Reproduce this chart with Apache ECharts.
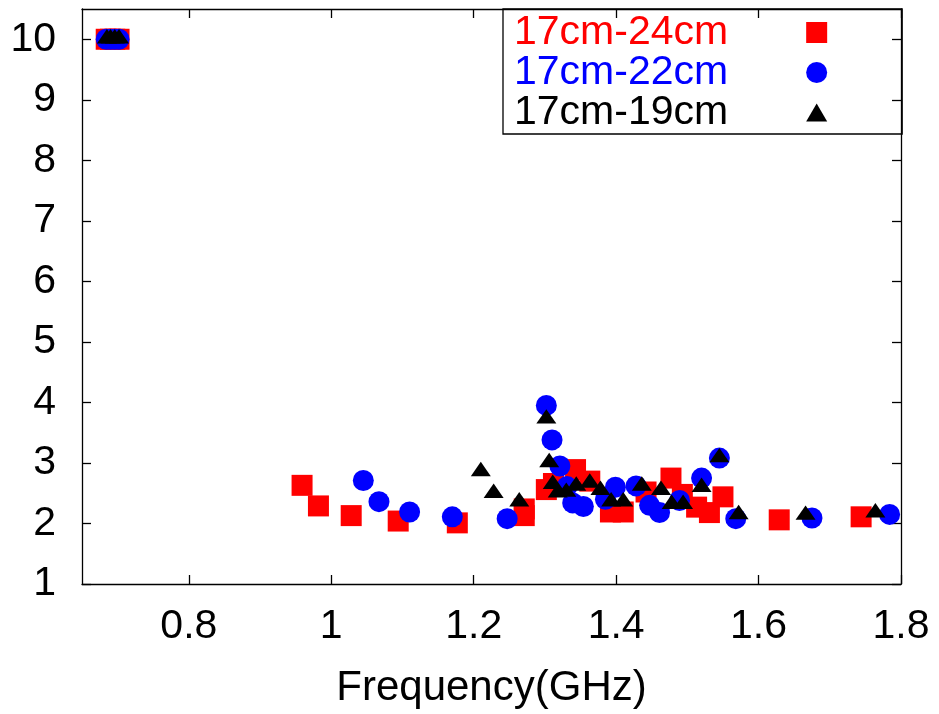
<!DOCTYPE html>
<html><head><meta charset="utf-8">
<script src="https://cdn.jsdelivr.net/npm/echarts@6/dist/echarts.min.js"></script>
<style>html,body{margin:0;padding:0;background:#fff}#c{width:939px;height:714px}</style>
</head><body><div id="c"></div>
<script>
const seriesNames = ['17cm-24cm', '17cm-22cm', '17cm-19cm'];
const seriesColors = ['#ff0000', '#0000ff', '#000000'];
const xTicks = [0.8, 1, 1.2, 1.4, 1.6, 1.8];
const yTicks = [1, 2, 3, 4, 5, 6, 7, 8, 9, 10];
const xName = 'Frequency(GHz)';

const red24 = [
  [0.684, 10], [0.690, 10], [0.696, 10], [0.702, 10],
  [0.959, 2.63], [0.982, 2.29], [1.028, 2.13], [1.094, 2.04], [1.177, 2.01],
  [1.271, 2.24], [1.271, 2.13],
  [1.302, 2.56], [1.312, 2.66], [1.343, 2.89], [1.363, 2.70], [1.392, 2.19],
  [1.410, 2.19], [1.442, 2.52], [1.477, 2.75], [1.493, 2.48], [1.513, 2.27],
  [1.531, 2.18], [1.550, 2.44], [1.629, 2.06], [1.744, 2.11]
];
const blue22 = [
  [0.684, 10], [0.690, 10], [0.696, 10], [0.702, 10],
  [1.045, 2.71], [1.067, 2.36], [1.110, 2.19], [1.170, 2.11], [1.247, 2.08],
  [1.302, 3.95], [1.310, 3.38], [1.321, 2.95], [1.331, 2.61], [1.339, 2.34],
  [1.354, 2.28], [1.385, 2.40], [1.399, 2.60], [1.428, 2.62], [1.447, 2.30],
  [1.461, 2.18], [1.489, 2.38], [1.520, 2.75], [1.545, 3.08], [1.568, 2.08],
  [1.675, 2.09], [1.784, 2.15]
];
const black19 = [
  [0.685, 10], [0.690, 10], [0.696, 10], [0.702, 10],
  [1.210, 2.85], [1.228, 2.49], [1.264, 2.35], [1.302, 3.72], [1.306, 3.00],
  [1.311, 2.64], [1.318, 2.50], [1.330, 2.51], [1.344, 2.61], [1.363, 2.66],
  [1.378, 2.54], [1.393, 2.35], [1.410, 2.35], [1.436, 2.61], [1.463, 2.54],
  [1.478, 2.31], [1.494, 2.31], [1.520, 2.59], [1.545, 3.08], [1.572, 2.14],
  [1.666, 2.13], [1.764, 2.17]
];

const FONT = 'Liberation Sans';
const lineStyle = { color: '#000', width: 1.3 };
const tri = 'path://M0,17L10,0L20,17Z';

const chart = echarts.init(document.getElementById('c'), null, { renderer: 'canvas' });
const axisCommonX = {
  type: 'value', min: 0.65, max: 1.8,
  axisLine: { show: true, lineStyle }, splitLine: { show: false },
  axisTick: { show: true, inside: true, length: 9, lineStyle, customValues: xTicks }
};
const axisCommonY = {
  type: 'value', min: 1, max: 10.5,
  axisLine: { show: true, lineStyle }, splitLine: { show: false },
  axisTick: { show: true, inside: true, length: 9, lineStyle, customValues: yTicks }
};
chart.setOption({
  animation: false,
  backgroundColor: '#fff',
  textStyle: { fontFamily: FONT },
  grid: { left: 82, right: 38, top: 9, bottom: 126, containLabel: false },
  legend: {
    orient: 'vertical', align: 'right', left: 503, top: 9,
    padding: [3, 75, 1, 11],
    borderColor: '#000', borderWidth: 1.3,
    itemWidth: 21, itemHeight: 21, itemGap: -1,
    textStyle: { fontFamily: FONT, fontSize: 41, padding: [0, 73, 0, 0] },
    data: seriesNames.map((n, i) => ({ name: n, textStyle: { color: seriesColors[i] } }))
  },
  xAxis: [
    Object.assign({}, axisCommonX, {
      position: 'bottom', name: xName, nameLocation: 'middle', nameGap: 83,
      nameTextStyle: { fontFamily: FONT, fontSize: 42, color: '#000' },
      axisLabel: { show: true, customValues: xTicks, margin: 22, fontFamily: FONT, fontSize: 41, color: '#000' }
    }),
    Object.assign({}, axisCommonX, { position: 'top', axisLabel: { show: false } })
  ],
  yAxis: [
    Object.assign({}, axisCommonY, {
      position: 'left',
      axisLabel: { show: true, customValues: yTicks, margin: 26, fontFamily: FONT, fontSize: 41, color: '#000' }
    }),
    Object.assign({}, axisCommonY, { position: 'right', axisLabel: { show: false } })
  ],
  series: [
    { name: seriesNames[0], type: 'scatter', symbol: 'rect', symbolSize: 21, data: red24,
      itemStyle: { color: seriesColors[0], opacity: 1 }, z: 2 },
    { name: seriesNames[1], type: 'scatter', symbol: 'circle', symbolSize: 21, data: blue22,
      itemStyle: { color: seriesColors[1], opacity: 1 }, z: 3 },
    { name: seriesNames[2], type: 'scatter', symbol: tri, symbolSize: [20, 17], symbolKeepAspect: true,
      symbolOffset: [0, -3], data: black19,
      itemStyle: { color: seriesColors[2], opacity: 1 }, z: 4 }
  ]
});
</script></body></html>
